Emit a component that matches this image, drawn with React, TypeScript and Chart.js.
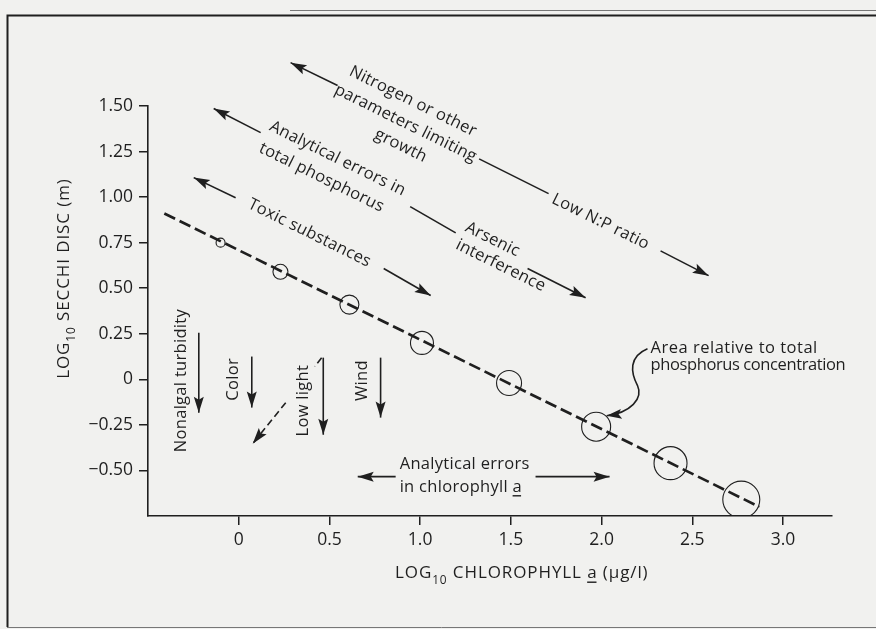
import React, { useEffect, useRef } from "react";
import { Chart, registerables } from "chart.js";

Chart.register(...registerables);

// ---------- data ----------
const xTicks = [0, 0.5, 1, 1.5, 2, 2.5, 3];
const xTickLabels = ["0", "0.5", "1.0", "1.5", "2.0", "2.5", "3.0"];
const yTicks = [-0.5, -0.25, 0, 0.25, 0.5, 0.75, 1, 1.25, 1.5];
const yTickLabels = ["\u22120.50", "\u22120.25", "0", "0.25", "0.50", "0.75", "1.00", "1.25", "1.50"];

const logChlorophyll = [-0.1, 0.23, 0.61, 1.01, 1.49, 1.97, 2.38, 2.77];
const logSecchi = [0.75, 0.59, 0.41, 0.2, -0.02, -0.26, -0.46, -0.66];
// relative total phosphorus (drawn as circle size)
const relativePhosphorus = [4.5, 7.5, 9.5, 11.5, 12.5, 14.5, 16.5, 18.5];

const fitLineX = [-0.41, 2.87];
const fitLineY = [0.91, -0.7];

// ---------- annotations (data coordinates) ----------
type Pt = [number, number];
const arrowLines: { from: Pt; to: Pt; head: boolean; dashed?: boolean }[] = [
  // nitrogen / low N:P
  { from: [0.545, 1.612], to: [0.286, 1.738], head: true },
  { from: [1.325, 1.21], to: [1.708, 1.019], head: false },
  { from: [2.325, 0.705], to: [2.59, 0.569], head: true },
  // analytical errors in TP / arsenic
  { from: [0.121, 1.354], to: [-0.138, 1.486], head: true },
  { from: [0.945, 0.948], to: [1.196, 0.804], head: false },
  { from: [1.592, 0.608], to: [1.912, 0.448], head: true },
  // toxic substances
  { from: [-0.017, 0.997], to: [-0.248, 1.107], head: true },
  { from: [0.799, 0.608], to: [1.058, 0.46], head: true },
  // analytical errors in chlorophyll
  { from: [0.865, -0.534], to: [0.656, -0.534], head: true },
  { from: [1.636, -0.534], to: [2.044, -0.534], head: true },
  // vertical arrows
  { from: [-0.22, 0.256], to: [-0.22, -0.183], head: true },
  { from: [0.072, 0.125], to: [0.072, -0.155], head: true },
  { from: [0.466, 0.119], to: [0.466, -0.304], head: true },
  { from: [0.782, 0.119], to: [0.782, -0.21], head: true },
  // dashed diagonal arrow
  { from: [0.457, 0.119], to: [0.419, 0.07], head: false, dashed: true },
  { from: [0.259, -0.128], to: [0.077, -0.353], head: true, dashed: true },
];

const slantedTexts: { text: string; at: Pt }[] = [
  { text: "Nitrogen or other", at: [0.96, 1.525] },
  { text: "parameters limiting", at: [0.92, 1.405] },
  { text: "growth", at: [0.893, 1.282] },
  { text: "Low N:P ratio", at: [1.994, 0.865] },
  { text: "Analytical errors in", at: [0.545, 1.211] },
  { text: "total phosphorus", at: [0.457, 1.107] },
  { text: "Arsenic", at: [1.399, 0.767] },
  { text: "interference", at: [1.444, 0.624] },
  { text: "Toxic substances", at: [0.39, 0.803] },
];

const verticalTexts: { text: string; at: Pt }[] = [
  { text: "Nonalgal turbidity", at: [-0.314, -0.007] },
  { text: "Color", at: [-0.028, 0.0] },
  { text: "Low light", at: [0.358, -0.117] },
  { text: "Wind", at: [0.683, -0.007] },
];

const INK = "#1f1f1f";
const FONT = "'Open Sans', 'DejaVu Sans', sans-serif";
const ANN_SIZE = 16.5;
const ANN_SPACING = "0.3px";

type Part = { t: string; sub?: boolean; underline?: boolean };

function drawParts(ctx: any, parts: Part[], x: number, y: number, size: number, align: "left" | "center", spacing: string) {
  ctx.letterSpacing = spacing;
  const widths = parts.map((p) => {
    ctx.font = `${p.sub ? size * 0.7 : size}px ${FONT}`;
    return ctx.measureText(p.t).width;
  });
  const total = widths.reduce((a, b) => a + b, 0);
  let cx = align === "center" ? x - total / 2 : x;
  ctx.textAlign = "left";
  ctx.textBaseline = "middle";
  parts.forEach((p, i) => {
    ctx.font = `${p.sub ? size * 0.7 : size}px ${FONT}`;
    const dy = p.sub ? size * 0.42 : 0;
    ctx.fillText(p.t, cx, y + dy);
    if (p.underline) {
      ctx.fillRect(cx, y + size * 0.5, widths[i] - 1, 1.4);
    }
    cx += widths[i];
  });
  ctx.letterSpacing = "0px";
}

const backgroundPlugin = {
  id: "paper",
  beforeDraw(chart: any) {
    const { ctx, width, height } = chart;
    ctx.save();
    ctx.fillStyle = "#f1f1ef";
    ctx.fillRect(0, 0, width, height);
    ctx.strokeStyle = INK;
    ctx.lineWidth = 2;
    ctx.beginPath();
    ctx.moveTo(7.5, 627);
    ctx.lineTo(7.5, 15.5);
    ctx.lineTo(width, 15.5);
    ctx.stroke();
    ctx.strokeStyle = "#777";
    ctx.lineWidth = 1;
    ctx.beginPath();
    ctx.moveTo(290, 10.5);
    ctx.lineTo(width, 10.5);
    ctx.moveTo(7, 627.5);
    ctx.lineTo(width, 627.5);
    ctx.stroke();
    ctx.restore();
  },
};

const annotationPlugin = {
  id: "annotations",
  afterDraw(chart: any) {
    const { ctx } = chart;
    const xs = chart.scales.x;
    const ys = chart.scales.y;
    const P = (p: Pt): Pt => [xs.getPixelForValue(p[0]), ys.getPixelForValue(p[1])];
    const a0 = P([fitLineX[0], fitLineY[0]]);
    const a1 = P([fitLineX[1], fitLineY[1]]);
    const angle = Math.atan2(a1[1] - a0[1], a1[0] - a0[0]);

    ctx.save();
    ctx.fillStyle = INK;
    ctx.strokeStyle = INK;

    // arrows
    arrowLines.forEach((l) => {
      const f = P(l.from);
      const t = P(l.to);
      ctx.lineWidth = 1.6;
      ctx.setLineDash(l.dashed ? [7, 4] : []);
      ctx.beginPath();
      ctx.moveTo(f[0], f[1]);
      ctx.lineTo(t[0], t[1]);
      ctx.stroke();
      ctx.setLineDash([]);
      if (l.head) {
        const a = Math.atan2(t[1] - f[1], t[0] - f[0]);
        ctx.save();
        ctx.translate(t[0], t[1]);
        ctx.rotate(a);
        ctx.beginPath();
        ctx.moveTo(0, 0);
        ctx.lineTo(-16, -5);
        ctx.lineTo(-13, 0);
        ctx.lineTo(-16, 5);
        ctx.closePath();
        ctx.fill();
        ctx.restore();
      }
    });

    // slanted texts
    ctx.font = `${ANN_SIZE}px ${FONT}`;
    ctx.letterSpacing = ANN_SPACING;
    ctx.textAlign = "center";
    ctx.textBaseline = "middle";
    slantedTexts.forEach((s) => {
      const p = P(s.at);
      ctx.save();
      ctx.translate(p[0], p[1]);
      ctx.rotate(angle);
      ctx.fillText(s.text, 0, 0);
      ctx.restore();
    });

    // vertical texts
    verticalTexts.forEach((s) => {
      const p = P(s.at);
      ctx.save();
      ctx.translate(p[0], p[1]);
      ctx.rotate(-Math.PI / 2);
      ctx.fillText(s.text, 0, 0);
      ctx.restore();
    });
    ctx.letterSpacing = "0px";

    // horizontal texts
    const c1 = P([0.887, -0.464]);
    drawParts(ctx, [{ t: "Analytical errors" }], c1[0], c1[1], ANN_SIZE, "left", ANN_SPACING);
    const c2 = P([0.887, -0.59]);
    drawParts(ctx, [{ t: "in chlorophyll " }, { t: "a", underline: true }], c2[0], c2[1], ANN_SIZE, "left", ANN_SPACING);
    const r1 = P([2.27, 0.172]);
    drawParts(ctx, [{ t: "Area relative to total" }], r1[0], r1[1], ANN_SIZE, "left", "0.5px");
    const r2 = P([2.27, 0.075]);
    drawParts(ctx, [{ t: "phosphorus concentration" }], r2[0], r2[1], ANN_SIZE, "left", "-0.4px");

    // curved pointer to circle
    const q0 = P([2.253, 0.168]);
    const q1 = P([2.149, 0.125]);
    const q2 = P([2.16, 0.037]);
    const q3 = P([2.198, -0.034]);
    const q4 = P([2.231, -0.106]);
    const q5 = P([2.16, -0.183]);
    const q6 = P([2.028, -0.2]);
    ctx.lineWidth = 1.6;
    ctx.beginPath();
    ctx.moveTo(q0[0], q0[1]);
    ctx.bezierCurveTo(q1[0], q1[1], q2[0], q2[1], q3[0], q3[1]);
    ctx.bezierCurveTo(q4[0], q4[1], q5[0], q5[1], q6[0], q6[1]);
    ctx.stroke();
    {
      const a = Math.atan2(q6[1] - q5[1], q6[0] - q5[0]);
      ctx.save();
      ctx.translate(q6[0], q6[1]);
      ctx.rotate(a);
      ctx.beginPath();
      ctx.moveTo(0, 0);
      ctx.lineTo(-15, -5);
      ctx.lineTo(-12, 0);
      ctx.lineTo(-15, 5);
      ctx.closePath();
      ctx.fill();
      ctx.restore();
    }

    // axis titles
    const area = chart.chartArea;
    const xt = xs.getPixelForValue(1.56);
    drawParts(
      ctx,
      [{ t: "LOG" }, { t: "10", sub: true }, { t: " CHLOROPHYLL " }, { t: "a", underline: true }, { t: " (\u00b5g/l)" }],
      xt,
      area.bottom + 57,
      17,
      "center",
      "0.9px"
    );
    const yt = ys.getPixelForValue(0.553);
    ctx.save();
    ctx.translate(64, yt);
    ctx.rotate(-Math.PI / 2);
    drawParts(ctx, [{ t: "LOG" }, { t: "10", sub: true }, { t: " SECCHI DISC (m)" }], 0, 0, 17, "center", "0.9px");
    ctx.restore();

    ctx.restore();
  },
};

export default function App() {
  const ref = useRef<HTMLCanvasElement>(null);
  useEffect(() => {
    document.body.style.margin = "0";
    const canvas = ref.current!;
    const chart = new Chart(canvas, {
      type: "scatter",
      data: {
        datasets: [
          {
            type: "line",
            data: fitLineX.map((x, i) => ({ x, y: fitLineY[i] })),
            borderColor: INK,
            borderWidth: 2.7,
            borderDash: [12, 5],
            pointRadius: 0,
            fill: false,
            tension: 0,
          } as any,
          {
            data: logChlorophyll.map((x, i) => ({ x, y: logSecchi[i] })),
            pointRadius: relativePhosphorus,
            pointBackgroundColor: "rgba(0,0,0,0)",
            pointBorderColor: INK,
            pointBorderWidth: 1.1,
            showLine: false,
          },
        ],
      },
      options: {
        animation: false,
        responsive: false,
        devicePixelRatio: 1,
        layout: { padding: { left: 0, right: 44, top: 106, bottom: 0 } },
        plugins: { legend: { display: false }, tooltip: { enabled: false } },
        scales: {
          x: {
            type: "linear",
            min: -0.5,
            max: 3.27,
            afterBuildTicks: (s: any) => {
              s.ticks = xTicks.map((v) => ({ value: v }));
            },
            afterFit: (s: any) => {
              s.height = 113;
            },
            ticks: {
              autoSkip: false,
              maxRotation: 0,
              padding: 5,
              color: INK,
              font: { family: FONT, size: 17.5 },
              callback: (_v: any, i: number) => xTickLabels[i],
            },
            grid: { drawOnChartArea: false, drawTicks: true, tickLength: 9, color: INK, lineWidth: 1.5 },
            border: { display: true, color: INK, width: 1.6 },
          },
          y: {
            type: "linear",
            min: -0.75,
            max: 1.5,
            afterBuildTicks: (s: any) => {
              s.ticks = yTicks.map((v) => ({ value: v }));
            },
            afterFit: (s: any) => {
              s.width = 148;
            },
            ticks: {
              autoSkip: false,
              padding: 6,
              color: INK,
              font: { family: FONT, size: 17.5 },
              callback: (_v: any, i: number) => yTickLabels[i],
            },
            grid: { drawOnChartArea: false, drawTicks: true, tickLength: 9, color: INK, lineWidth: 1.5 },
            border: { display: true, color: INK, width: 1.6 },
          },
        },
      },
      plugins: [backgroundPlugin, annotationPlugin],
    });
    return () => chart.destroy();
  }, []);
  return <canvas ref={ref} width={876} height={629} style={{ display: "block", width: 876, height: 629 }} />;
}
